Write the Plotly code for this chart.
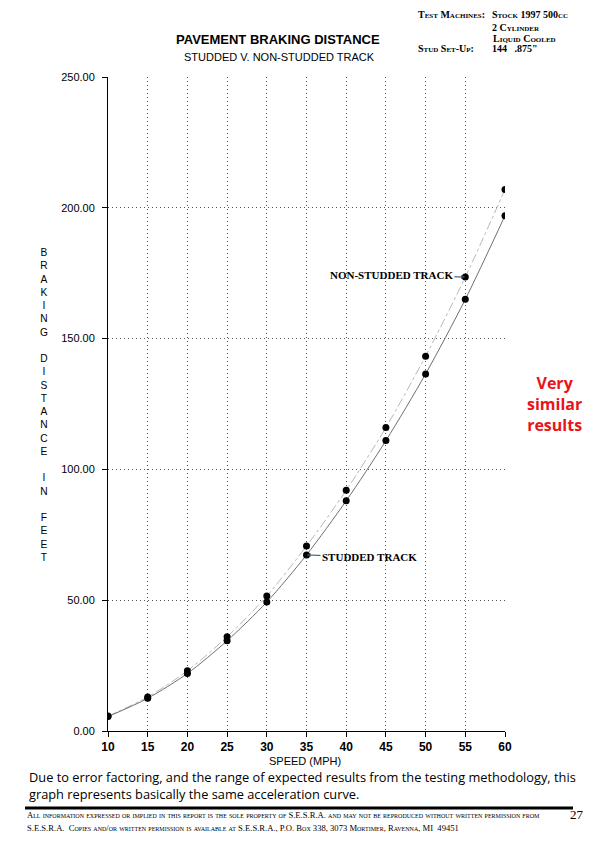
import plotly.graph_objects as go

# speeds tested (mph)
speed = [10, 15, 20, 25, 30, 35, 40, 45, 50, 55, 60]

# braking distance in feet
studded = [5.5, 12.5, 22.0, 34.5, 49.3, 67.3, 88.0, 111.0, 136.5, 165.0, 197.0]
non_studded = [5.7, 13.0, 23.0, 36.0, 51.6, 70.7, 92.0, 116.0, 143.3, 173.5, 207.0]

y_ticks = [0, 50, 100, 150, 200, 250]
y_label = "BRAKING DISTANCE IN FEET"

# page pixel -> paper coords (plot area is 108..505 wide, 77..731 tall)
L, R, T, B = 108, 505, 77, 731


def px(x, y):
    return (x - L) / (R - L), (B - y) / (B - T)


fig = go.Figure()

fig.add_trace(go.Scatter(
    x=speed, y=non_studded, mode="lines+markers", name="Non-studded",
    line=dict(color="#b8b8b8", width=1, dash="dashdot", shape="spline", smoothing=0.8),
    marker=dict(color="black", size=7),
))
fig.add_trace(go.Scatter(
    x=speed, y=studded, mode="lines+markers", name="Studded",
    line=dict(color="#707070", width=1, shape="spline", smoothing=0.8),
    marker=dict(color="black", size=7),
))

serif = "Liberation Serif"
sans = "Liberation Sans"
ann = []


def text(x, y, s, size, family=sans, xanchor="center", color="black", align="center", **font_kw):
    xp, yp = px(x, y)
    ann.append(dict(x=xp, y=yp, xref="paper", yref="paper", text=s, showarrow=False,
                    xanchor=xanchor, yanchor="middle", align=align,
                    font=dict(family=family, size=size, color=color, **font_kw)))


# titles
text(278, 40, "<b>PAVEMENT BRAKING DISTANCE</b>", 13)
text(279, 57, "STUDDED V. NON-STUDDED TRACK", 11)

# test machine block
sc = dict(variant="small-caps", weight="bold")
text(416, 15, "Test Machines:", 10, serif, "left", **sc)
text(490, 15, "Stock 1997 500cc", 10, serif, "left", **sc)
text(490, 27, "2 Cylinder", 10, serif, "left", **sc)
text(491, 38, "Liquid Cooled", 10, serif, "left", **sc)
text(416, 49, "Stud Set-Up:", 10, serif, "left", **sc)
text(490, 49, "144&nbsp;&nbsp;&nbsp;.875\"", 10, serif, "left", **sc)

# vertical y-axis title, one letter per line
lines = []
for word in y_label.split(" "):
    lines += list(word) + ["&nbsp;"]
text(44, 405, "<br>".join(lines[:-1]), 10.2)

# x-axis title
text(305, 761, "SPEED (MPH)", 11)

# side note
text(554, 404, "<b>Very<br>similar<br>results</b>", 16, "Open Sans", color="#e8141a")

# footnote
text(27, 785, "Due to error factoring, and the range of expected results from the testing methodology, this"
     "<br>graph represents basically the same acceleration curve.", 12.8, "Open Sans", "left", align="left")

# footer
text(25, 815, "All information expressed or implied in this report is the sole property of S.E.S.R.A. and may not be reproduced without written permission from",
     8.6, serif, "left", variant="small-caps")
text(25, 828, "S.E.S.R.A.&nbsp;&nbsp;Copies and/or written permission is available at S.E.S.R.A., P.O. Box 338, 3073 Mortimer, Ravenna, MI&nbsp;&nbsp;49451",
     8.6, serif, "left", variant="small-caps")
text(568, 814, "27", 13, serif, "left")

# series labels with arrows
ann.append(dict(x=55, y=non_studded[9], xref="x", yref="y", text="<b>NON-STUDDED TRACK</b>",
                showarrow=True, arrowhead=2, arrowsize=0.8, arrowwidth=1, ax=-74, ay=-2,
                font=dict(family=serif, size=11, color="black")))
ann.append(dict(x=35, y=studded[5], xref="x", yref="y", text="<b>STUDDED TRACK</b>",
                showarrow=True, arrowhead=2, arrowsize=0.8, arrowwidth=1, ax=63, ay=2,
                font=dict(family=serif, size=11, color="black")))

x0, y0 = px(25, 808)
x1, _ = px(573, 808)

fig.update_layout(
    width=600, height=843, autosize=False,
    margin=dict(l=L, r=600 - R, t=T, b=843 - B),
    paper_bgcolor="white", plot_bgcolor="white",
    showlegend=False,
    annotations=ann,
    shapes=[dict(type="line", xref="paper", yref="paper", x0=x0, x1=x1, y0=y0, y1=y0,
                 line=dict(color="black", width=3))],
    font=dict(family=sans, color="black"),
)
fig.update_xaxes(
    range=[10, 60], tickvals=speed, ticktext=["<b>%d</b>" % s for s in speed],
    tickfont=dict(size=12, family=sans), showline=True, linecolor="black", linewidth=1,
    ticks="outside", ticklen=5, tickcolor="black",
    showgrid=True, gridcolor="#555555", griddash="1px,3px", gridwidth=1, zeroline=False,
)
fig.update_yaxes(
    range=[0, 250], tickvals=y_ticks, tickformat=".2f",
    tickfont=dict(size=11, family=sans), showline=True, linecolor="black", linewidth=1,
    ticks="outside", ticklen=5, tickcolor="black", ticklabelstandoff=5,
    showgrid=True, gridcolor="#555555", griddash="1px,3px", gridwidth=1, zeroline=False,
)

fig.write_html("out.html", config={"displayModeBar": False},
               post_script="document.body.style.margin='0';")
